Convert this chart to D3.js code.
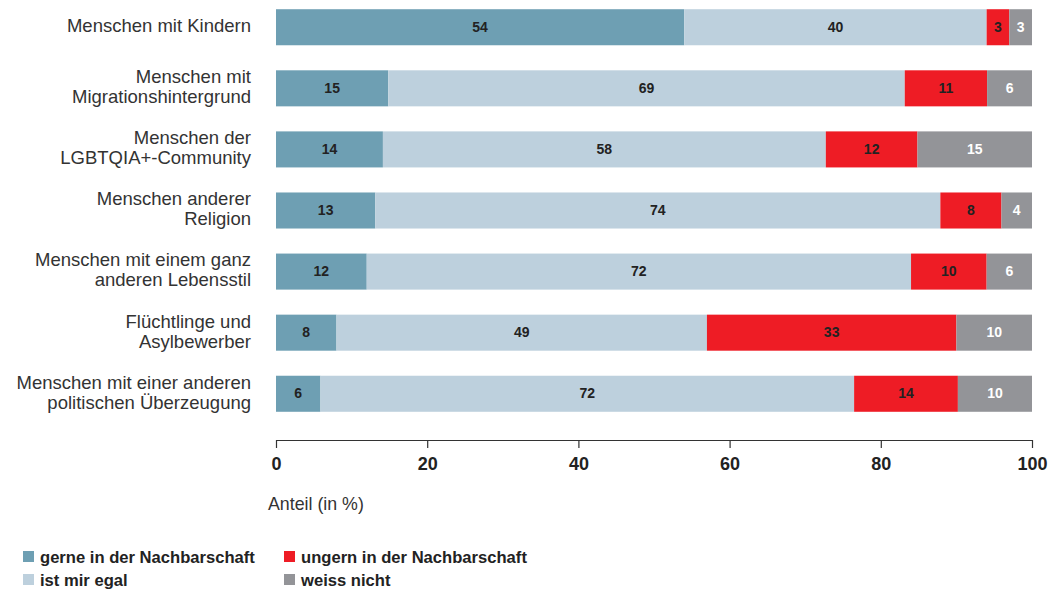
<!DOCTYPE html>
<html><head><meta charset="utf-8">
<script src="https://cdn.jsdelivr.net/npm/d3@7"></script>
<style>body{margin:0;background:#fff}svg{display:block}</style>
</head><body>
<svg id="c" width="1060" height="590"></svg>
<script>
const categories = [
  ["Menschen mit Kindern"],
  ["Menschen mit", "Migrationshintergrund"],
  ["Menschen der", "LGBTQIA+-Community"],
  ["Menschen anderer", "Religion"],
  ["Menschen mit einem ganz", "anderen Lebensstil"],
  ["Flüchtlinge und", "Asylbewerber"],
  ["Menschen mit einer anderen", "politischen Überzeugung"]
];
const gerne  = [54, 15, 14, 13, 12, 8, 6];
const egal   = [40, 69, 58, 74, 72, 49, 72];
const ungern = [3, 11, 12, 8, 10, 33, 14];
const weiss  = [3, 6, 15, 4, 6, 10, 10];
const seriesNames = ["gerne in der Nachbarschaft", "ist mir egal", "ungern in der Nachbarschaft", "weiss nicht"];
const seriesKeys = ["gerne", "egal", "ungern", "weiss"];
const colors = ["#6e9fb3", "#bdd0dd", "#ee1c25", "#939498"];
const textColors = ["#222", "#222", "#222", "#fff"];
const xTicks = [0, 20, 40, 60, 80, 100];
const axisTitle = "Anteil (in %)";

const rows = categories.map((c, i) => ({idx: i, gerne: gerne[i], egal: egal[i], ungern: ungern[i], weiss: weiss[i]}));
const stacked = d3.stack().keys(seriesKeys).offset(d3.stackOffsetExpand)(rows);

const svg = d3.select("#c");
const font = "'Liberation Sans', Arial, sans-serif";
const x = d3.scaleLinear().domain([0, 1]).range([276, 1032]);
const xAxisScale = d3.scaleLinear().domain([0, 100]).range([276, 1032]);
const y = d3.scaleBand().domain(d3.range(categories.length)).range([-3, 424]).paddingInner(0.41).paddingOuter(0.2);

const g = svg.append("g");
stacked.forEach((s, si) => {
  const grp = g.append("g");
  grp.selectAll("rect").data(s).join("rect")
    .attr("x", d => x(d[0]))
    .attr("width", d => x(d[1]) - x(d[0]))
    .attr("y", (d, i) => y(i))
    .attr("height", y.bandwidth())
    .attr("fill", colors[si]);
  grp.selectAll("text").data(s).join("text")
    .attr("x", d => (x(d[0]) + x(d[1])) / 2)
    .attr("y", (d, i) => y(i) + y.bandwidth() / 2 + 1)
    .attr("text-anchor", "middle")
    .attr("dominant-baseline", "middle")
    .attr("font-family", font)
    .attr("font-weight", "bold")
    .attr("font-size", 14)
    .attr("fill", textColors[si])
    .text(d => d.data[seriesKeys[si]]);
});

// category labels
categories.forEach((lines, i) => {
  const cy = y(i) + y.bandwidth() / 2;
  const lh = 20;
  const t = svg.append("text")
    .attr("text-anchor", "end")
    .attr("font-family", font)
    .attr("font-size", 18.5)
    .attr("fill", "#333");
  lines.forEach((ln, k) => {
    t.append("tspan")
      .attr("x", 251)
      .attr("y", cy + (k - (lines.length - 1) / 2) * lh)
      .attr("dominant-baseline", "middle")
      .text(ln);
  });
});

// axis
const ax = svg.append("g").attr("transform", "translate(0,440)")
  .call(d3.axisBottom(xAxisScale).tickValues(xTicks).tickSize(8).tickSizeOuter(0).tickPadding(9));
ax.select(".domain").attr("stroke", "#333").attr("stroke-width", 1.2);
ax.selectAll(".tick line").attr("stroke", "#333").attr("stroke-width", 1.2);
ax.selectAll(".tick text").attr("font-family", font).attr("font-weight", "bold")
  .attr("font-size", 18).attr("fill", "#222");

svg.append("text").attr("x", 268).attr("y", 510)
  .attr("font-family", font).attr("font-size", 17.8).attr("fill", "#333")
  .text(axisTitle);

// legend
const legendPos = [[23, 551], [23, 574], [284, 551], [284, 574]];
seriesNames.forEach((n, i) => {
  const [lx, ly] = legendPos[i];
  svg.append("rect").attr("x", lx).attr("y", ly).attr("width", 11).attr("height", 11).attr("fill", colors[i]);
  svg.append("text").attr("x", lx + 17).attr("y", ly + 11.5)
    .attr("font-family", font).attr("font-weight", "bold").attr("font-size", 16.6)
    .attr("fill", "#222").text(n);
});
</script>
</body></html>
